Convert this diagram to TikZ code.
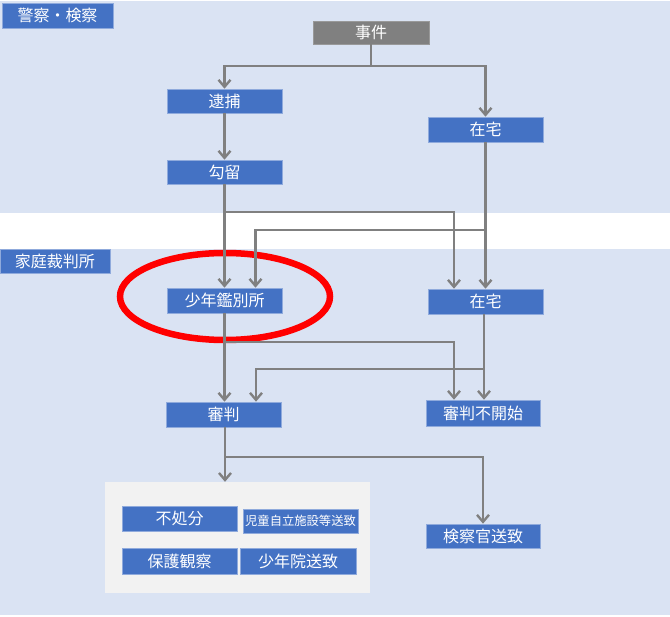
\documentclass[tikz,border=0pt]{standalone}
\usepackage{fontspec}
\setmainfont{Noto Sans CJK JP}
\usetikzlibrary{arrows.meta}
\definecolor{bandblue}{HTML}{DAE3F3}
\definecolor{boxblue}{HTML}{4472C4}
\definecolor{boxedge}{HTML}{8FAADC}
\definecolor{linegray}{HTML}{808080}
\definecolor{panelgray}{HTML}{F2F2F2}
\tikzset{
  bx/.style={fill=boxblue, draw=boxedge, line width=0.6pt, text=white, inner sep=0pt,
    minimum width=115pt, minimum height=24pt, font=\fontsize{16pt}{18pt}\selectfont},
  graybx/.style={bx, fill=linegray, draw=linegray!80!white},
  smallbx/.style={bx, font=\fontsize{12.3pt}{14pt}\selectfont},
  lbl/.style={bx, font=\fontsize{16pt}{18pt}\selectfont},
  panel/.style={fill=panelgray, draw=none, inner sep=0pt, minimum width=265pt, minimum height=111pt},
  conn/.style={draw=linegray, line width=2.4pt},
  arr/.style={conn, -{Straight Barb[length=7pt,width=12pt,line width=2.4pt]}},
}
\begin{document}
\begin{tikzpicture}[x=1pt,y=-1pt]
\useasboundingbox (0,0) rectangle (670,617);
% bands
\fill[bandblue] (0,1) rectangle (670,213);
\fill[bandblue] (0,249) rectangle (670,615);
% labels
\node[lbl, minimum width=111pt, minimum height=25pt] (police) at (57.5,15.5) {警察・検察};
\node[lbl, minimum width=110pt, minimum height=24pt] (court) at (55,261) {家庭裁判所};
% nodes
\node[graybx, minimum width=116pt, minimum height=23pt] (jiken) at (371,32.5) {事件};
\node[bx] (taiho) at (224.5,101) {逮捕};
\node[bx] (koryu) at (224.5,172) {勾留};
\node[bx, minimum height=25pt] (zaitaku1) at (485.5,129.5) {在宅};
\node[bx, minimum height=25pt] (kanbetsu) at (224.5,300.5) {少年鑑別所};
\node[bx, minimum height=25pt] (zaitaku2) at (485.5,301.5) {在宅};
\node[bx, minimum height=25pt] (shinpan) at (223.5,414.5) {審判};
\node[bx, minimum width=114pt, minimum height=26pt] (fukaishi) at (483,413) {審判不開始};
\node[panel] (panel) at (237.5,537.5) {};
\node[bx, minimum height=25pt] (fusho) at (179.5,518.5) {不処分};
\node[smallbx] (jidou) at (300.5,521) {児童自立施設等送致};
\node[bx, minimum height=26pt] (hogo) at (179.5,561) {保護観察};
\node[bx, minimum width=116pt, minimum height=26pt] (shonenin) at (298,561) {少年院送致};
\node[bx, minimum width=114pt] (kensatsukan) at (483,536) {検察官送致};
% red ellipse
\draw[red, line width=6.5pt] (225,296.5) ellipse [x radius=105, y radius=43.5];
% junction coordinates
\coordinate (j1) at (371,66);
\coordinate (j2) at (224.5,212);
\coordinate (j3) at (485.5,230);
\coordinate (j4) at (224.5,342);
\coordinate (j5) at (484,369);
\coordinate (j6) at (225,457);
% connectors
\draw[conn] (jiken.south) -- (j1);
\draw[arr] (j1) -| (taiho.north);
\draw[arr] (j1) -| (zaitaku1.north);
\draw[arr] (taiho.south) -- (koryu.north);
\draw[arr] (koryu.south) -- (kanbetsu.north);
\draw[arr] (j2) -| ([xshift=-31.5pt]zaitaku2.north);
\draw[arr] (zaitaku1.south) -- (zaitaku2.north);
\draw[arr] (j3) -| ([xshift=31pt]kanbetsu.north);
\draw[arr] (kanbetsu.south) -- (kanbetsu.south |- shinpan.north);
\draw[arr] (j4) -| ([xshift=-29pt]fukaishi.north);
\draw[arr] ([xshift=-1.5pt]zaitaku2.south) -- ([xshift=1pt]fukaishi.north);
\draw[arr] (j5) -| ([xshift=32.5pt]shinpan.north);
\draw[arr] (shinpan.south -| j6) -- (j6 |- panel.north);
\draw[arr] (j6) -| (kensatsukan.north);
\end{tikzpicture}
\end{document}
